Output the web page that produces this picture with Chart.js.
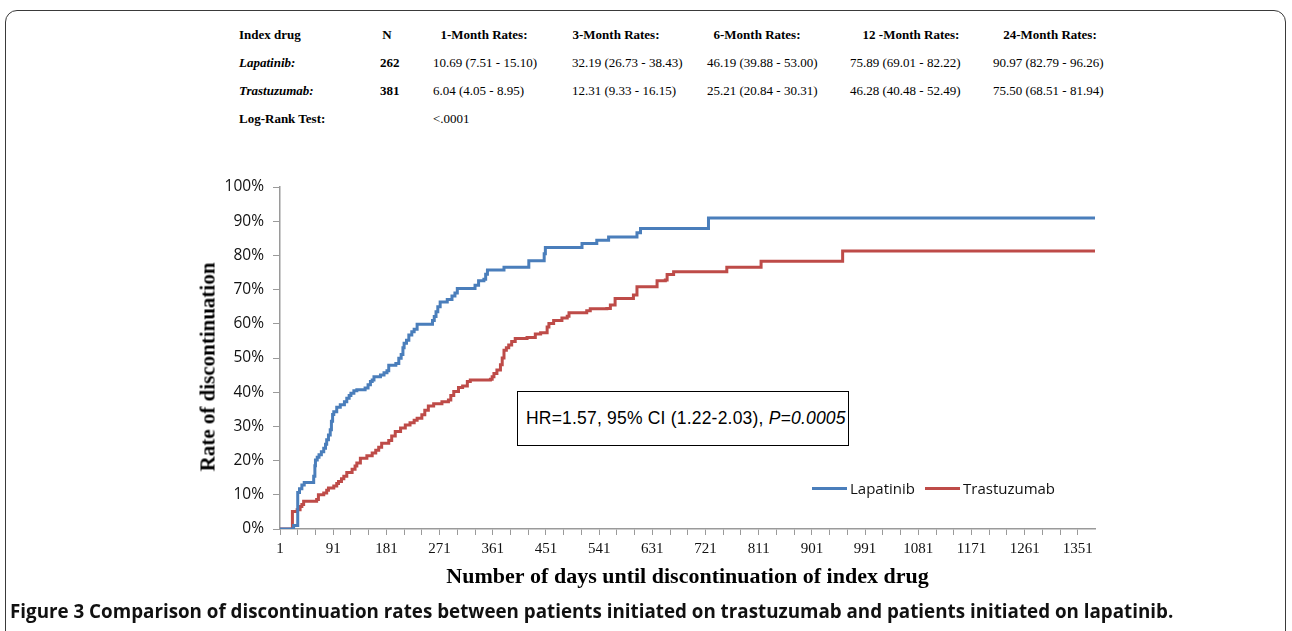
<!DOCTYPE html>
<html>
<head>
<meta charset="utf-8">
<script src="https://cdn.jsdelivr.net/npm/chart.js@4.4.1/dist/chart.umd.min.js"></script>
<style>
  html, body { margin:0; padding:0; background:#fff; }
  body { width:1292px; height:631px; position:relative; overflow:hidden; }
  #frame { position:absolute; left:5px; top:10px; width:1281px; height:700px; border:1px solid #3a3a3a; border-radius:12px; box-sizing:border-box; }
  #chartWrap { position:absolute; left:0; top:0; width:1292px; height:631px; }
  .t { position:absolute; font-family:"Liberation Serif","Times New Roman",serif; font-size:13px; color:#000; white-space:nowrap; line-height:14px; }
  .b { font-weight:bold; }
  .i { font-style:italic; }
  .c { transform:translateX(-50%); }
  #hrbox { position:absolute; left:517px; top:391px; width:332px; height:55px; border:1px solid #000; box-sizing:border-box; background:#fff;
           font-family:"Liberation Sans",Arial,sans-serif; font-size:17.5px; letter-spacing:0.2px; line-height:53px; padding-left:8px; white-space:nowrap; color:#000; }
  .leg { position:absolute; font-family:"Open Sans",sans-serif; font-size:15px; color:#111; top:478px; white-space:nowrap; }
  .legline { position:absolute; height:3px; top:487px; width:35px; }
  #caption { position:absolute; left:10px; top:598px; font-family:"Open Sans",sans-serif; font-weight:700; font-size:18.8px; color:#111; white-space:nowrap; }
  #ytitle { position:absolute; left:208px; top:367px; transform:translate(-50%,-50%) rotate(-90deg); font-family:"Liberation Serif","Times New Roman",serif; font-weight:bold; font-size:21px; color:#000; white-space:nowrap; }
</style>
</head>
<body>
<div id="frame"></div>
<div id="table"></div>
<div id="chartWrap"><canvas id="c" width="1292" height="631"></canvas></div>
<div id="ytitle"></div>
<div id="hrbox">HR=1.57, 95% CI (1.22-2.03), <i>P=0.0005</i></div>
<div id="legend"></div>
<div id="caption">Figure 3 Comparison of discontinuation rates between patients initiated on trastuzumab and patients initiated on lapatinib.</div>
<script>
// ---- Data ----
const seriesNames = ["Lapatinib", "Trastuzumab"];
const seriesColors = ["#4A7EBB", "#BE4B48"];

// Lapatinib: day of event and cumulative discontinuation rate (%) after that day
const lapDays  = [1,24,31,34,38,42,58,60,61,64,67,71,75,78,80,83,86,88,90,92,97,103,110,114,118,121,126,131,145,150,154,157,160,171,177,182,185,197,202,206,209,211,215,219,224,228,233,259,262,265,268,272,284,292,297,301,331,337,346,349,352,380,422,448,450,512,537,557,605,611,726,1380];
const lapRates = [0,1.0,10.7,11.8,12.9,13.6,15.4,18.5,20.2,21.0,21.7,22.6,23.6,24.8,26.1,27.5,29.0,31.5,33.5,34.3,35.6,36.3,37.2,38.2,39.0,39.7,40.4,40.7,41.2,42.2,43.1,43.6,44.5,45.0,45.7,46.3,47.9,48.4,49.9,51.0,53.0,54.3,55.2,56.7,57.7,58.4,59.9,61.0,62.1,63.5,65.0,66.4,67.1,68.1,69.0,70.3,71.3,72.6,73.0,74.5,75.7,76.5,78.4,80.5,82.3,83.5,84.4,85.4,86.6,87.9,90.9,90.9];

// Trastuzumab
const trasDays  = [1,22,30,35,38,41,63,66,75,80,83,92,97,100,105,109,114,123,128,131,137,148,157,163,168,173,185,190,196,205,213,221,228,233,241,246,252,261,275,286,290,295,303,310,318,323,357,360,363,368,374,377,380,384,388,393,399,419,433,442,453,456,464,478,487,490,520,526,554,560,568,599,605,639,653,656,667,757,815,953,1380];
const trasRates = [0,5.1,5.6,6.6,7.2,8.1,8.6,10.0,10.5,11.3,12.0,12.6,13.3,13.9,14.7,15.4,16.5,17.5,18.4,19.3,20.7,21.4,22.2,23.0,23.9,25.1,25.9,27.2,28.5,29.5,30.4,31.1,31.8,32.4,33.4,34.7,36.0,36.6,37.2,37.7,39.0,40.2,41.4,41.8,43.1,43.6,43.8,44.5,45.5,46.5,48.0,50.0,52.3,53.0,53.8,54.8,55.7,56.0,57.0,57.4,59.1,60.1,61.0,61.7,62.2,63.2,63.8,64.4,64.5,65.5,67.4,68.4,70.8,72.6,72.8,74.4,75.2,76.5,78.3,81.3,81.3];

// Axis settings
const xMin = 1, xMax = 1380, xMinorStep = 30, xLabelStep = 90;
const yMin = 0, yMax = 100, yStep = 10;
const xTitle = "Number of days until discontinuation of index drug";
const yTitle = "Rate of discontinuation";

// Table
const tableHeaders = ["Index drug", "N", "1-Month Rates:", "3-Month Rates:", "6-Month Rates:", "12 -Month Rates:", "24-Month Rates:"];
const tableDrugs = ["Lapatinib:", "Trastuzumab:"];
const tableN = ["262", "381"];
const tableLapRates  = ["10.69 (7.51 - 15.10)", "32.19 (26.73 - 38.43)", "46.19 (39.88 - 53.00)", "75.89 (69.01 - 82.22)", "90.97 (82.79 - 96.26)"];
const tableTrasRates = ["6.04 (4.05 - 8.95)", "12.31 (9.33 - 16.15)", "25.21 (20.84 - 30.31)", "46.28 (40.48 - 52.49)", "75.50 (68.51 - 81.94)"];
const logRankLabel = "Log-Rank Test:";
const logRankValue = "<.0001";

document.getElementById('ytitle').textContent = yTitle;

// ---- Table layout ----
(function(){
  const tbl = document.getElementById('table');
  const rowY = [28, 56, 84, 112];
  const headCenters = [null, 387, 484, 616, 757, 911, 1050];
  const valLeft = [433, 572, 707, 850, 993];
  function add(txt, x, y, cls){
    const d = document.createElement('div');
    d.className = 't ' + (cls||'');
    d.style.left = x + 'px'; d.style.top = y + 'px';
    d.textContent = txt; tbl.appendChild(d);
  }
  add(tableHeaders[0], 239, rowY[0], 'b');
  for (let i=1;i<tableHeaders.length;i++) add(tableHeaders[i], headCenters[i], rowY[0], 'b c');
  const rows = [tableLapRates, tableTrasRates];
  for (let r=0;r<2;r++){
    add(tableDrugs[r], 239, rowY[r+1], 'b i');
    add(tableN[r], 380, rowY[r+1], 'b');
    rows[r].forEach((v,k)=>add(v, valLeft[k], rowY[r+1], ''));
  }
  add(logRankLabel, 239, rowY[3], 'b');
  add(logRankValue, 433, rowY[3], '');
})();

// ---- Legend ----
(function(){
  const lg = document.getElementById('legend');
  const lineX = [812, 925], textX = [850, 963];
  seriesNames.forEach((n,i)=>{
    const l = document.createElement('div'); l.className='legline';
    l.style.left = lineX[i]+'px'; l.style.background = seriesColors[i]; lg.appendChild(l);
    const t = document.createElement('div'); t.className='leg';
    t.style.left = textX[i]+'px'; t.textContent = n; lg.appendChild(t);
  });
})();

// ---- Chart ----
function pts(xs, ys){ return xs.map((x,i)=>({x:x, y:ys[i]})); }

const axisColor = "#9a9a9a";
new Chart(document.getElementById('c'), {
  type: 'line',
  data: {
    datasets: [
      { label: seriesNames[0], data: pts(lapDays, lapRates), borderColor: seriesColors[0], borderWidth: 3, stepped: true, pointRadius: 0, fill: false, order: 1 },
      { label: seriesNames[1], data: pts(trasDays, trasRates), borderColor: seriesColors[1], borderWidth: 3, stepped: true, pointRadius: 0, fill: false, order: 2 }
    ]
  },
  options: {
    responsive: false,
    animation: false,
    devicePixelRatio: 1,
    layout: { padding: { left: 0, right: 197, top: 187, bottom: 0 } },
    plugins: { legend: { display: false }, tooltip: { enabled: false } },
    scales: {
      x: {
        type: 'linear', min: xMin, max: xMax,
        afterFit: (s) => { s.height = 102; },
        afterBuildTicks: (s) => {
          const t = [];
          for (let v = xMin; v <= xMax; v += xMinorStep) t.push({ value: v });
          s.ticks = t;
        },
        ticks: {
          autoSkip: false, maxRotation: 0, minRotation: 0, padding: 5,
          color: '#111',
          font: { family: '"Liberation Serif", "Times New Roman", serif', size: 15 },
          callback: (v) => ((v - xMin) % xLabelStep === 0 ? String(v) : '')
        },
        grid: { drawOnChartArea: false, drawTicks: true, tickLength: 6, color: axisColor, lineWidth: 1 },
        border: { display: true, color: axisColor, width: 1.5 },
        title: {
          display: true, text: xTitle, color: '#000',
          font: { family: '"Liberation Serif", "Times New Roman", serif', size: 22, weight: 'bold' },
          padding: { top: 0, bottom: 40 }
        }
      },
      y: {
        type: 'linear', min: yMin, max: yMax,
        afterFit: (s) => { s.width = 280; },
        ticks: {
          stepSize: yStep, padding: 9, color: '#111',
          font: { family: '"Open Sans", sans-serif', size: 15.5 },
          callback: (v) => v + '%'
        },
        grid: { drawOnChartArea: false, drawTicks: true, tickLength: 7, color: axisColor, lineWidth: 1 },
        border: { display: true, color: axisColor, width: 1.5 },
        title: { display: false }
      }
    }
  }
});
</script>
</body>
</html>
